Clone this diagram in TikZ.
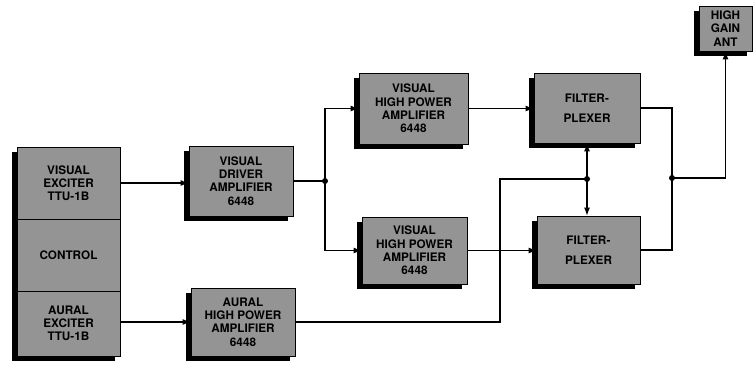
\documentclass[tikz,border=0pt]{standalone}
\usepackage{fontspec}
\setsansfont{TeX Gyre Heros}
\usetikzlibrary{arrows.meta,shadows}
\tikzset{
  blk/.style={draw=black, line width=0.6pt, fill=black!42, align=center,
    inner sep=0pt, font=\sffamily\bfseries\fontsize{8.8}{9.9}\selectfont,
    drop shadow={shadow xshift=-3.6pt, shadow yshift=-3.6pt, fill=black, opacity=1}},
  sig/.style={line width=0.8pt, -{Latex[length=6pt,width=4.5pt]}},
  wire/.style={line width=0.8pt},
  jdot/.style={circle, fill=black, inner sep=0pt, minimum size=4.5pt}
}
\begin{document}
\begin{tikzpicture}[x=0.75pt, y=-0.75pt]
  \useasboundingbox (0,0) rectangle (756,364);

  % Exciter rack
  \node[blk, minimum width=77.25pt, minimum height=54pt] (vexc) at (68.5,183) {VISUAL\\EXCITER\\TTU-1B};
  \node[blk, minimum width=77.25pt, minimum height=54pt] (ctrl) at (68.5,255) {CONTROL};
  \node[blk, minimum width=77.25pt, minimum height=48.75pt] (aexc) at (68.5,323.5) {AURAL\\EXCITER\\TTU-1B};

  % Amplifiers
  \node[blk, minimum width=78pt, minimum height=52.5pt] (vdrv) at (241,181) {VISUAL\\DRIVER\\AMPLIFIER\\6448};
  \node[blk, minimum width=78pt, minimum height=51pt] (ahpa) at (243,322) {AURAL\\HIGH POWER\\AMPLIFIER\\6448};
  \node[blk, minimum width=81.75pt, minimum height=53.25pt] (vhpa1) at (413.5,108.5) {VISUAL\\HIGH POWER\\AMPLIFIER\\6448};
  \node[blk, minimum width=78.75pt, minimum height=50.25pt] (vhpa2) at (414.5,250.5) {VISUAL\\HIGH POWER\\AMPLIFIER\\6448};

  % Filterplexers and antenna
  \node[blk, minimum width=79.5pt, minimum height=52.5pt] (fplx1) at (587,108) {FILTER-\\[5pt]PLEXER};
  \node[blk, minimum width=77.25pt, minimum height=51pt] (fplx2) at (588.5,250) {FILTER-\\[5pt]PLEXER};
  \node[blk, minimum width=39.75pt, minimum height=33.75pt] (ant) at (725.5,28.5) {HIGH\\GAIN\\ANT};

  % Junctions
  \coordinate (jdrv) at (325,181);
  \coordinate (jaur) at (587,179);
  \coordinate (jout) at (672,178);
  \coordinate (bend) at (500,179);

  % Visual chain
  \draw[sig] (vexc.east) -- (vexc.east -| vdrv.west);
  \draw[wire] (vdrv.east |- jdrv) -- (jdrv);
  \draw[sig] (jdrv) |- (vhpa1.west);
  \draw[sig] (jdrv) |- (vhpa2.west);
  \draw[sig] (vhpa1.east) -- (vhpa1.east -| fplx1.west);
  \draw[sig] (vhpa2.east) -- (vhpa2.east -| fplx2.west);

  % Aural chain
  \draw[sig] (aexc.east |- ahpa.west) -- (ahpa.west);
  \draw[wire] (ahpa.east) -| (bend) -- (jaur);
  \draw[sig] (jaur) -- (jaur |- fplx1.south);
  \draw[sig] (jaur) -- (jaur |- fplx2.north);

  % Combined output
  \draw[wire] (fplx1.east) -| (jout);
  \draw[wire] (fplx2.east) -| (jout);
  \draw[sig] (jout) -| (ant.south);

  \foreach \j in {jdrv,jaur,jout}
    \node[jdot] at (\j) {};
\end{tikzpicture}
\end{document}
